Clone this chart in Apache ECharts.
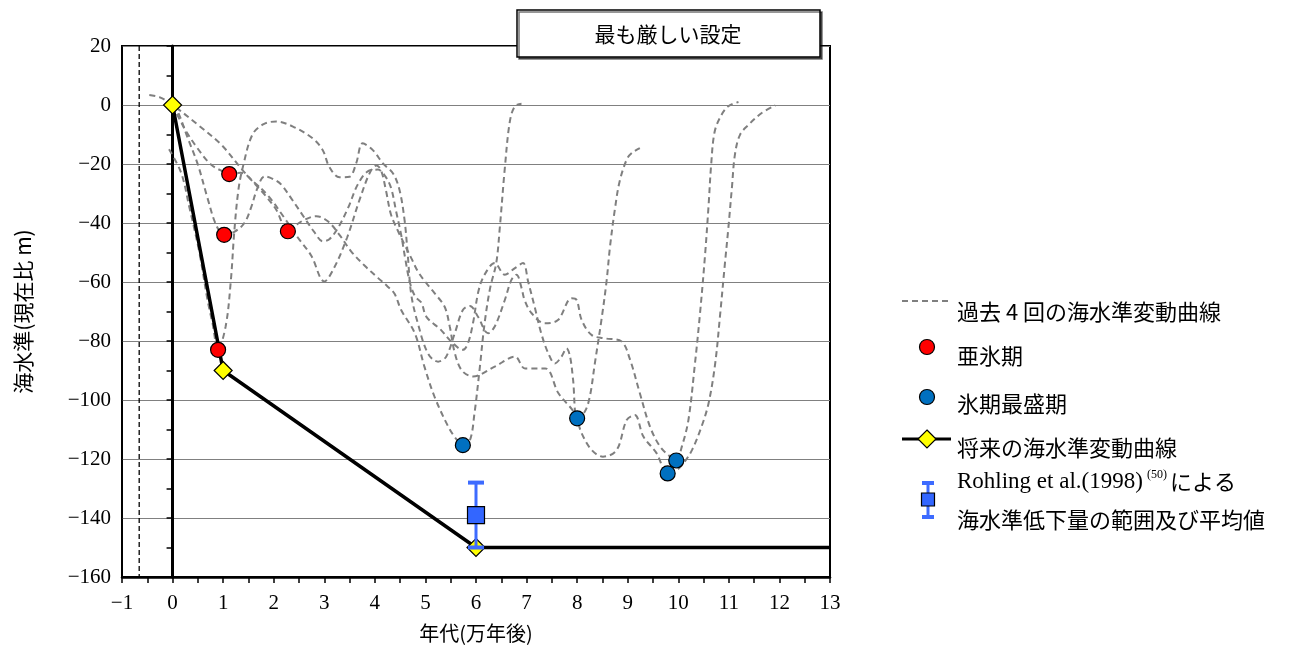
<!DOCTYPE html>
<html><head><meta charset="utf-8">
<script src="https://cdn.jsdelivr.net/npm/echarts@6/dist/echarts.min.js"></script>
<style>html,body{margin:0;padding:0;background:#fff}#c{width:1307px;height:651px}</style>
</head><body><div id="c"></div>
<script>
// ---- data ----
const xRange = [-1, 13];
const yRange = [-160, 20];
const refLineX = -0.66;
const pastA = [[-0.07,-15],[0.17,-23],[0.33,-34.5],[0.53,-50],[0.69,-66],[0.79,-74],[0.9,-83],[1.05,-75],[1.15,-60],[1.22,-43],[1.3,-29],[1.39,-21],[1.58,-10],[1.8,-6.5],[2.05,-5.6],[2.38,-7.3],[2.77,-11.3],[2.97,-15.3],[3.1,-21],[3.3,-24.5],[3.5,-24.3],[3.63,-19.8],[3.76,-13],[3.96,-15.3],[4.16,-19.8],[4.36,-23.2],[4.49,-29],[4.59,-39.4],[4.65,-50.7],[4.72,-64.3],[4.85,-74],[5.05,-84.2],[5.25,-87],[5.41,-85.3],[5.58,-77.4],[5.74,-69.5],[5.88,-68.1],[6.04,-71.8],[6.24,-77.4],[6.37,-75.1],[6.57,-66.1],[6.7,-59.3],[6.8,-57.5],[6.9,-62],[6.96,-66.1],[7.1,-70.6],[7.36,-74],[7.62,-72.9],[7.89,-65.5],[7.99,-66.1],[8.09,-72.9],[8.29,-78],[8.55,-79.1],[8.88,-80.2],[9.04,-86],[9.24,-97.7],[9.44,-109],[9.64,-115.8],[9.84,-119.2],[9.96,-120.5],[10.07,-115.8],[10.2,-106.8],[10.33,-87.6],[10.43,-70.6],[10.53,-50.7],[10.6,-33.8],[10.65,-20.2],[10.72,-9],[10.85,-3.5],[10.99,-0.4],[11.19,1]];
const pastB = [[0,0],[0.1,-2.1],[0.3,-11.2],[0.5,-20.2],[0.69,-31.5],[0.86,-40.6],[1.02,-44],[1.22,-43],[1.42,-40],[1.55,-34.9],[1.68,-28.1],[1.82,-24.2],[2.01,-25.3],[2.15,-27],[2.34,-31.5],[2.61,-38.3],[2.8,-43],[2.97,-46.2],[3.1,-45.5],[3.27,-41.7],[3.47,-34.9],[3.66,-27],[3.86,-22.5],[4.06,-21.9],[4.2,-24],[4.32,-28.1],[4.42,-36],[4.52,-44],[4.6,-52],[4.69,-60],[4.8,-65],[4.92,-67],[5.02,-71.8],[5.31,-76.3],[5.51,-80.2],[5.74,-83],[5.84,-80.8],[5.94,-74],[6.05,-63],[6.17,-57.5],[6.37,-53.6],[6.57,-57.5],[6.77,-55.3],[6.93,-53.6],[7.03,-59.8],[7.16,-68.4],[7.29,-77.4],[7.43,-84.2],[7.56,-87.6],[7.69,-85.3],[7.79,-82.5],[7.86,-85.3],[7.92,-93.2],[8.0,-106.2],[8.15,-104],[8.25,-98.9],[8.35,-87.6],[8.48,-72.9],[8.58,-60],[8.65,-48],[8.75,-34.9],[8.84,-25.9],[8.98,-18.5],[9.08,-16.3],[9.24,-14.6]];
const pastC = [[0,0],[0.23,-7.8],[0.49,-14.6],[0.76,-20.2],[0.99,-22.5],[1.12,-23.4],[1.35,-23],[1.6,-26],[1.9,-31],[2.2,-38],[2.48,-45],[2.74,-51],[3.0,-59.8],[3.2,-55],[3.45,-45],[3.7,-32],[3.9,-23],[4.03,-20.5],[4.12,-22],[4.22,-29],[4.32,-37.2],[4.46,-42.8],[4.59,-47.4],[4.72,-51.9],[4.85,-56.4],[5.0,-60],[5.18,-63.8],[5.38,-68.4],[5.48,-75],[5.58,-84],[5.72,-90],[5.94,-92],[6.37,-88.7],[6.77,-85.3],[6.97,-89.3],[7.37,-89.3],[7.63,-97.7],[7.95,-104.5],[8.09,-111.3],[8.29,-117],[8.51,-119.2],[8.78,-117],[8.98,-106.8],[9.14,-105.1],[9.31,-112.4],[9.57,-118],[9.79,-124.9],[9.97,-123.7],[10.1,-121.5],[10.27,-117],[10.46,-109],[10.6,-101],[10.73,-87.6],[10.83,-70.6],[10.92,-54.1],[10.99,-41.7],[11.06,-28.1],[11.12,-16.8],[11.22,-10.1],[11.39,-6.7],[11.65,-2.7],[11.92,-0.1]];
const pastD = [[-0.46,3.4],[-0.25,2.6],[0,0],[0.5,-6.7],[0.96,-13.4],[1.35,-21.4],[1.55,-25.3],[1.82,-30.4],[2.05,-35.5],[2.28,-42.8],[2.41,-41.1],[2.61,-38.9],[2.84,-37.7],[3.07,-39.4],[3.3,-44],[3.53,-49.6],[3.8,-54.5],[4.06,-58.6],[4.25,-61.5],[4.39,-64],[4.52,-69.5],[4.79,-77.4],[4.98,-88.7],[5.18,-98.9],[5.45,-109],[5.6,-113],[5.74,-115.3],[5.88,-113.6],[5.97,-104.5],[6.07,-89.8],[6.17,-74],[6.28,-62],[6.4,-53.6],[6.47,-41.7],[6.57,-21.4],[6.67,-5.5],[6.77,-0.4],[6.9,0.4]];
const stadials = [[0.9,-83],[1.02,-44],[1.12,-23.4],[2.28,-42.8]];
const glacialMaxima = [[5.74,-115.3],[8.0,-106.2],[9.79,-124.9],[9.96,-120.5]];
const futureCurve = [[0,0],[1,-90],[6,-150],[13,-150]];
const futureNodes = [[0,0],[1,-90],[6,-150]];
const rohlingX = [6];
const rohlingMean = [-139];
const rohlingLow = [-150];
const rohlingHigh = [-128];

const legendLabels = ['過去 4 回の海水準変動曲線','亜氷期','氷期最盛期','将来の海水準変動曲線'];
const titleText = '最も厳しい設定';
const xName = '年代(万年後)';
const yName = '海水準(現在比 m)';

// ---- styles ----
const FONT = "'Liberation Serif','Noto Sans CJK JP',serif";
const JFONT = "'Noto Sans CJK JP','Liberation Serif',sans-serif";
const minus = v => String(v).replace('-', '\u2212');
const dashGray = {color:'#7f7f7f', width:2, type:[6,4]};

const pastSeries = [pastA,pastB,pastC,pastD].map((d,i)=>({
  type:'line', name:'past'+i, data:d, smooth:0.35, symbol:'none', z:2,
  lineStyle:dashGray, silent:true
}));

const option = {
  animation:false,
  grid:{left:122,right:477,top:46,bottom:74,show:true,borderColor:'#000',borderWidth:2,backgroundColor:'transparent'},
  xAxis:{type:'value',min:xRange[0],max:xRange[1],interval:1,
    axisLine:{onZero:false,lineStyle:{color:'#000',width:2.5}},
    axisTick:{show:true,length:6,lineStyle:{color:'#000',width:1.5}},
    minorTick:{show:true,splitNumber:2,length:6,lineStyle:{color:'#000',width:1.5}},
    splitLine:{show:false},
    axisLabel:{color:'#000',fontSize:21,fontFamily:FONT,margin:16,formatter:minus},
    name:xName,nameLocation:'middle',nameGap:46,
    nameTextStyle:{color:'#000',fontSize:20,fontFamily:JFONT}},
  yAxis:[
    {type:'value',min:yRange[0],max:yRange[1],interval:20,position:'left',
     axisLine:{show:true,onZero:false,lineStyle:{color:'#000',width:1.5}},
     axisTick:{show:false},
     splitLine:{show:true,lineStyle:{color:'#808080',width:1}},
     axisLabel:{color:'#000',fontSize:21,fontFamily:FONT,margin:11,formatter:minus},
     name:yName,nameLocation:'middle',nameGap:88,
     nameTextStyle:{color:'#000',fontSize:21,fontFamily:JFONT}},
    {type:'value',min:yRange[0],max:yRange[1],interval:20,position:'left',
     axisLine:{show:true,onZero:true,lineStyle:{color:'#000',width:3}},
     axisTick:{show:true,length:6,lineStyle:{color:'#000',width:1.5}},
     minorTick:{show:true,splitNumber:2,length:6,lineStyle:{color:'#000',width:1.5}},
     axisLabel:{show:false},splitLine:{show:false}}
  ],
  series:[
    {type:'line',data:[[refLineX,yRange[1]],[refLineX,yRange[0]]],symbol:'none',z:1,silent:true,
     lineStyle:{color:'#000',width:1.3,type:[5,3]}},
    ...pastSeries,
    {type:'line',data:futureCurve,symbol:'none',z:3,lineStyle:{color:'#000',width:3.5}},
    {type:'scatter',data:stadials,symbol:'circle',symbolSize:15,z:5,
     itemStyle:{color:'#ff0000',borderColor:'#000',borderWidth:1.2,opacity:1}},
    {type:'scatter',data:glacialMaxima,symbol:'circle',symbolSize:15,z:5,
     itemStyle:{color:'#0070c0',borderColor:'#000',borderWidth:1.2,opacity:1}},
    {type:'scatter',data:futureNodes,symbol:'diamond',symbolSize:[18,18],z:6,
     itemStyle:{color:'#ffff00',borderColor:'#000',borderWidth:1.2,opacity:1}},
    {type:'custom',z:7,data:rohlingX.map((x,i)=>[x,rohlingLow[i],rohlingHigh[i]]),
     encode:{x:0,y:[1,2]},
     renderItem:(params,api)=>{
       const x = api.value(0);
       const lo = api.coord([x,api.value(1)]);
       const hi = api.coord([x,api.value(2)]);
       const hw = 8, col = '#3d6bff';
       return {type:'group',children:[
         {type:'line',shape:{x1:lo[0],y1:lo[1],x2:hi[0],y2:hi[1]},style:{stroke:col,lineWidth:3}},
         {type:'line',shape:{x1:lo[0]-hw,y1:lo[1],x2:lo[0]+hw,y2:lo[1]},style:{stroke:col,lineWidth:4}},
         {type:'line',shape:{x1:hi[0]-hw,y1:hi[1],x2:hi[0]+hw,y2:hi[1]},style:{stroke:col,lineWidth:4}}
       ]};
     }},
    {type:'scatter',data:rohlingX.map((x,i)=>[x,rohlingMean[i]]),symbol:'rect',symbolSize:17,z:8,
     itemStyle:{color:'#3366ff',borderColor:'#000',borderWidth:1.2,opacity:1}}
  ],
  graphic:[
    // title box
    {type:'rect',z:100,shape:{x:517,y:10,width:303,height:47},
     style:{fill:'#fff',stroke:'#000',lineWidth:1.5,shadowColor:'rgba(0,0,0,0.55)',shadowOffsetX:2,shadowOffsetY:2,shadowBlur:0}},
    {type:'text',z:101,x:668,y:34,style:{text:titleText,fill:'#000',font:"21px "+JFONT,textAlign:'center',textVerticalAlign:'middle'}},
    // legend 1: dashed line
    {type:'line',z:100,shape:{x1:902,y1:301,x2:950,y2:301},style:{stroke:'#7f7f7f',lineWidth:2,lineDash:[6,4]}},
    {type:'text',z:100,x:957,y:312,style:{text:legendLabels[0],fill:'#000',font:"22px "+JFONT,textVerticalAlign:'middle'}},
    // legend 2: red
    {type:'circle',z:100,shape:{cx:927,cy:347,r:7.5},style:{fill:'#ff0000',stroke:'#000',lineWidth:1.2}},
    {type:'text',z:100,x:957,y:356,style:{text:legendLabels[1],fill:'#000',font:"22px "+JFONT,textVerticalAlign:'middle'}},
    // legend 3: blue
    {type:'circle',z:100,shape:{cx:927,cy:397,r:7.5},style:{fill:'#0070c0',stroke:'#000',lineWidth:1.2}},
    {type:'text',z:100,x:957,y:404,style:{text:legendLabels[2],fill:'#000',font:"22px "+JFONT,textVerticalAlign:'middle'}},
    // legend 4: future line with diamond
    {type:'line',z:100,shape:{x1:902,y1:439,x2:951,y2:439},style:{stroke:'#000',lineWidth:3}},
    {type:'polygon',z:101,shape:{points:[[927,430],[936,439],[927,448],[918,439]]},style:{fill:'#ffff00',stroke:'#000',lineWidth:1.2}},
    {type:'text',z:100,x:957,y:448,style:{text:legendLabels[3],fill:'#000',font:"22px "+JFONT,textVerticalAlign:'middle'}},
    // legend 5: error bar + square
    {type:'line',z:100,shape:{x1:928,y1:483,x2:928,y2:517},style:{stroke:'#3d6bff',lineWidth:3}},
    {type:'line',z:100,shape:{x1:922,y1:483,x2:934,y2:483},style:{stroke:'#3d6bff',lineWidth:4}},
    {type:'line',z:100,shape:{x1:922,y1:517,x2:934,y2:517},style:{stroke:'#3d6bff',lineWidth:4}},
    {type:'rect',z:101,shape:{x:921.5,y:493,width:13,height:13},style:{fill:'#3366ff',stroke:'#000',lineWidth:1.2}},
    {type:'text',z:100,x:957,y:482,style:{
      text:'{a|Rohling et al.(1998)}{s|(50)}{j|による}',
      textVerticalAlign:'middle',
      rich:{
        a:{fontSize:23,fontFamily:FONT,color:'#000',lineHeight:26},
        s:{fontSize:12,fontFamily:FONT,color:'#000',verticalAlign:'top',padding:[0,3,0,4]},
        j:{fontSize:22,fontFamily:JFONT,color:'#000',lineHeight:26}
      }}},
    {type:'text',z:100,x:957,y:520,style:{text:'海水準低下量の範囲及び平均値',fill:'#000',font:"22px "+JFONT,textVerticalAlign:'middle'}}
  ]
};
const chart = echarts.init(document.getElementById('c'), null, {renderer:'canvas'});
chart.setOption(option);
</script>
</body></html>
